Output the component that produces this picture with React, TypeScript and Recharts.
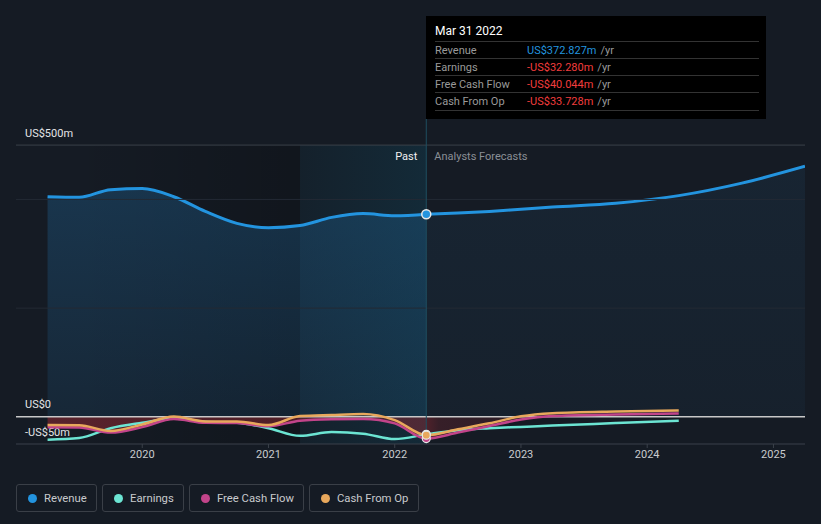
import React from "react"
import {
  Area,
  ComposedChart,
  Line,
  ReferenceArea,
  ReferenceDot,
  ReferenceLine,
  XAxis,
  YAxis,
} from "recharts"

// past quarters (fractional years), values in US$m
const pastDates = [2019.25, 2019.5, 2019.75, 2020, 2020.25, 2020.5, 2020.75, 2021, 2021.25, 2021.5, 2021.75, 2022, 2022.25]
const pastRevenue = [405, 404, 418, 420, 405, 378, 356, 348, 352, 367, 374, 370, 372.827]
const pastEarnings = [-42, -39, -21, -11, -3, -9, -11, -21, -35, -28, -31, -41, -32.28]
const pastFcf = [-19, -19.5, -29, -19, -4, -11, -11.5, -17.5, -7, -4.5, -4, -12, -40.044]
const pastCfo = [-15, -15.5, -26, -14, 0.5, -8.5, -8.5, -15, 1.5, 3.5, 5, -6, -33.728]

// analyst forecasts
const fcDates = [2022.25, 2022.5, 2022.75, 2023, 2023.25, 2023.75, 2024.25, 2024.75, 2025.25]
const fcRevenue = [372.827, 375, 378, 382, 386, 393, 407, 430, 461]
const fcEarnings = [-32.28, -24.5, -21, -18.5, -16, -11.5, -7]
const fcFcf = [-40.044, -29, -17, -5, 1.5, 4.5, 6]
const fcCfo = [-33.728, -23, -12, 1, 6.7, 10, 11.6]

const yearTicks = [2020, 2021, 2022, 2023, 2024, 2025]
const yTicks = [-50, 0, 500]
const yLabels: Record<number, string> = { [-50]: "-US$50m", 0: "US$0", 500: "US$500m" }
const gridValues = [400, 200]

const tooltipDate = "Mar 31 2022"
const nowX = pastDates[pastDates.length - 1]
const bandStart = 2021.25

const C = {
  bg: "#151b24",
  revenue: "#2394df",
  earnings: "#6ce5d3",
  fcf: "#c2448a",
  cfo: "#e8a85c",
  neg: "#f23d3d",
}

const rows = new Map<number, any>()
const put = (x: number, key: string, v: number) => {
  const r = rows.get(x) ?? { x }
  r[key] = v
  rows.set(x, r)
}
pastDates.forEach((d, i) => {
  put(d, "revPast", pastRevenue[i])
  put(d, "earn", pastEarnings[i])
  put(d, "fcf", pastFcf[i])
  put(d, "cfo", pastCfo[i])
})
fcDates.forEach((d, i) => {
  put(d, "revFc", fcRevenue[i])
  if (i < fcEarnings.length) {
    put(d, "earn", fcEarnings[i])
    put(d, "fcf", fcFcf[i])
    put(d, "cfo", fcCfo[i])
  }
})
const data = [...rows.values()].sort((a, b) => a.x - b.x)
data.forEach(r => {
  if (r.fcf !== undefined) r.fcfNeg = Math.min(r.fcf, 0)
})

const money = (v: number) => `${v < 0 ? "-" : ""}US$${Math.abs(v).toFixed(3)}m`

const tipRows = [
  { label: "Revenue", value: pastRevenue[pastRevenue.length - 1] },
  { label: "Earnings", value: pastEarnings[pastEarnings.length - 1] },
  { label: "Free Cash Flow", value: pastFcf[pastFcf.length - 1] },
  { label: "Cash From Op", value: pastCfo[pastCfo.length - 1] },
]

const legendItems = [
  { label: "Revenue", color: C.revenue, w: 81 },
  { label: "Earnings", color: C.earnings, w: 82 },
  { label: "Free Cash Flow", color: C.fcf, w: 115 },
  { label: "Cash From Op", color: C.cfo, w: 110 },
]

// y labels sit just above their line, at the left edge
const YLabel = (props: any) => {
  const { viewBox, text } = props
  return (
    <text x={viewBox.x + 9} y={viewBox.y - 12} fill="#e4e5e7" fontSize={11} dominantBaseline="central">
      {text}
    </text>
  )
}

const SplitLabel = (props: any) => {
  const { viewBox } = props
  const x = viewBox.x
  const y = viewBox.y + 37
  return (
    <g>
      <text x={x - 9} y={y} textAnchor="end" fill="#f0f0f0" fontSize={11} dominantBaseline="central">Past</text>
      <text x={x + 8} y={y} fill="#8a8f96" fontSize={11} dominantBaseline="central">Analysts Forecasts</text>
    </g>
  )
}

const lineColor = (v: number) => (v === 0 ? "#c8c8c8" : v === 500 ? "#3a4049" : "none")

const App = () => {
  return (
    <div style={{ position: "fixed", left: 0, top: 0, width: 821, height: 524, background: C.bg, fontFamily: "Roboto, sans-serif" }}>
      <ComposedChart width={821} height={524} data={data} margin={{ top: 119, right: 16, bottom: 50, left: 16 }}>
        <defs>
          <linearGradient id="pastShade" x1="0" y1="0" x2="1" y2="0">
            <stop offset="0" stopColor="#000" stopOpacity={0} />
            <stop offset="0.2" stopColor="#000" stopOpacity={0} />
            <stop offset="1" stopColor="#000" stopOpacity={0.4} />
          </linearGradient>
          <linearGradient id="band" x1="0" y1="0" x2="1" y2="0">
            <stop offset="0" stopColor="#0a7aa0" stopOpacity={0.12} />
            <stop offset="1" stopColor="#0a7aa0" stopOpacity={0.32} />
          </linearGradient>
          <linearGradient id="revPastFill" x1="0" y1="0" x2="0" y2="1">
            <stop offset="0" stopColor="#1f5f8e" stopOpacity={0.65} />
            <stop offset="1" stopColor="#1f5f8e" stopOpacity={0.3} />
          </linearGradient>
          <linearGradient id="revFcFill" x1="0" y1="0" x2="0" y2="1">
            <stop offset="0" stopColor="#2a6a9a" stopOpacity={0.2} />
            <stop offset="1" stopColor="#2a6a9a" stopOpacity={0.12} />
          </linearGradient>
          <linearGradient id="negFill" x1="0" y1="0" x2="1" y2="0">
            <stop offset="0" stopColor="#a02a34" stopOpacity={0.8} />
            <stop offset="0.6" stopColor="#a02a34" stopOpacity={0.7} />
            <stop offset="0.62" stopColor="#a02a34" stopOpacity={0.4} />
            <stop offset="1" stopColor="#a02a34" stopOpacity={0.05} />
          </linearGradient>
        </defs>
        <XAxis
          dataKey="x"
          type="number"
          domain={[2019, 2025.25]}
          ticks={yearTicks}
          tick={{ fill: "#c9cbce", fontSize: 11 }}
          axisLine={{ stroke: "#3b414a" }}
          tickLine={{ stroke: "#3b414a" }}
          tickSize={4}
          height={30}
          allowDataOverflow
        />
        <YAxis type="number" domain={[-50, 548]} ticks={yTicks} hide allowDataOverflow />
        <ReferenceArea x1={2019} x2={bandStart} y1={-50} y2={500} fill="url(#pastShade)" stroke="none" />
        <ReferenceArea x1={bandStart} x2={nowX} y1={-50} y2={500} fill="url(#band)" stroke="none" />
        {gridValues.map(v => (
          <ReferenceLine key={v} y={v} stroke="#232a34" />
        ))}
        <Area type="monotone" dataKey="revPast" baseValue={0} stroke={C.revenue} strokeWidth={3} fill="url(#revPastFill)" isAnimationActive={false} dot={false} activeDot={false} />
        <Area type="monotone" dataKey="revFc" baseValue={0} stroke={C.revenue} strokeWidth={3} fill="url(#revFcFill)" isAnimationActive={false} dot={false} activeDot={false} />
        <Area type="monotone" dataKey="fcfNeg" baseValue={0} stroke="none" fill="url(#negFill)" isAnimationActive={false} dot={false} activeDot={false} />
        {yTicks.map(v => (
          <ReferenceLine
            key={v}
            y={v}
            stroke={lineColor(v)}
            strokeWidth={v === 0 ? 1.5 : 1}
            label={<YLabel text={yLabels[v]} />}
          />
        ))}
        <ReferenceLine x={nowX} stroke="#1f4d60" label={<SplitLabel />} />
        <Line type="monotone" dataKey="earn" stroke={C.earnings} strokeWidth={2.5} dot={false} isAnimationActive={false} />
        <Line type="monotone" dataKey="fcf" stroke={C.fcf} strokeWidth={2.5} dot={false} isAnimationActive={false} />
        <Line type="monotone" dataKey="cfo" stroke={C.cfo} strokeWidth={2.5} dot={false} isAnimationActive={false} />
        <ReferenceDot x={nowX} y={tipRows[1].value} r={4} fill={C.earnings} stroke="#e8e8e8" strokeWidth={1.2} />
        <ReferenceDot x={nowX} y={tipRows[2].value} r={4} fill={C.fcf} stroke="#e8e8e8" strokeWidth={1.2} />
        <ReferenceDot x={nowX} y={tipRows[3].value} r={4} fill={C.cfo} stroke="#e8e8e8" strokeWidth={1.2} />
        <ReferenceDot x={nowX} y={tipRows[0].value} r={4.5} fill={C.revenue} stroke="#e8e8e8" strokeWidth={1.5} />
      </ComposedChart>

      <div style={{ position: "absolute", left: 426, top: 16, width: 340, height: 103, background: "#000", boxSizing: "border-box", padding: "0 7px 0 9px" }}>
        <div style={{ color: "#fff", fontSize: 12, height: 25, lineHeight: "30px" }}>{tooltipDate}</div>
        {tipRows.map((r, i) => (
          <div key={r.label} style={{ display: "flex", alignItems: "center", height: 17, boxSizing: "border-box", borderTop: "1px solid #333", fontSize: 11 }}>
            <span style={{ width: 92, color: "#9a9a9a" }}>{r.label}</span>
            <span style={{ color: i === 0 ? C.revenue : C.neg }}>{money(r.value)}</span>
            <span style={{ color: "#9a9a9a", marginLeft: 4 }}>/yr</span>
          </div>
        ))}
        <div style={{ height: 1, marginTop: 1, background: "#333" }} />
      </div>

      <div style={{ position: "absolute", left: 16, top: 484, display: "flex", gap: 5 }}>
        {legendItems.map(it => (
          <div key={it.label} style={{ width: it.w, height: 28, boxSizing: "border-box", border: "1px solid #3a3f47", borderRadius: 3, display: "flex", alignItems: "center", paddingLeft: 11, fontSize: 11.3, color: "#c8cacd" }}>
            <span style={{ width: 9, height: 9, borderRadius: "50%", background: it.color, marginRight: 7 }} />
            {it.label}
          </div>
        ))}
      </div>
    </div>
  )
}

export default App
